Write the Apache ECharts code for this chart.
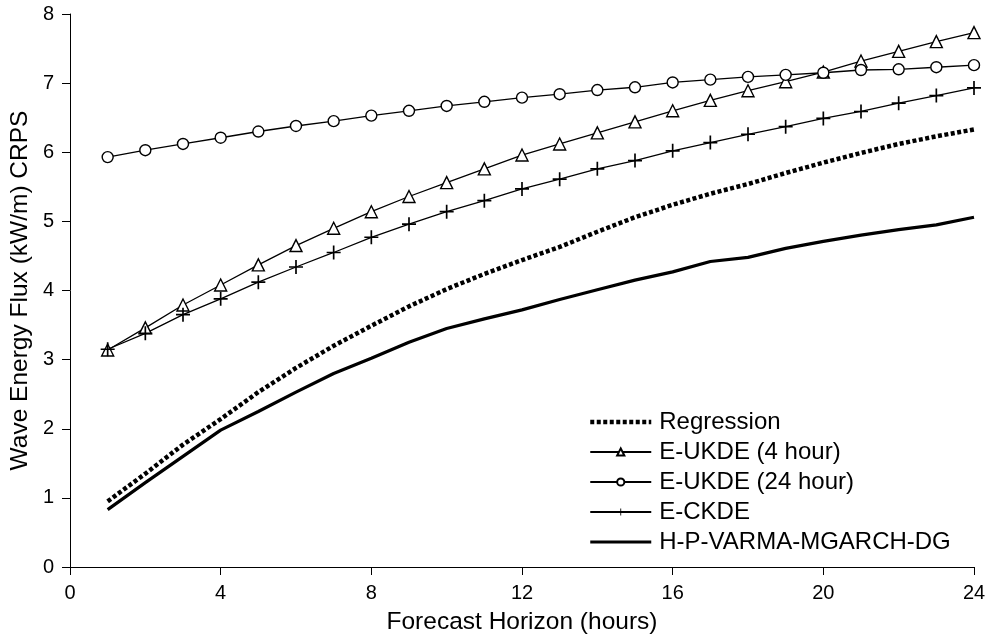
<!DOCTYPE html>
<html lang="en">
<head>
    <meta charset="UTF-8">
    <title>Wave Energy Flux CRPS</title>
    <style>
        html, body { margin: 0; padding: 0; background: #fff; }
        #main { width: 989px; height: 641px; }
    </style>
    <script src="https://cdn.jsdelivr.net/npm/echarts@6/dist/echarts.min.js"></script>
</head>
<body>
<div id="main"></div>
<script type="text/javascript">
    // forecast horizon (hours) and CRPS values
    var hours = [1, 2, 3, 4, 5, 6, 7, 8, 9, 10, 11, 12, 13, 14, 15, 16, 17, 18, 19, 20, 21, 22, 23, 24];
    var regression = [0.95, 1.35, 1.77, 2.14, 2.53, 2.88, 3.20, 3.49, 3.77, 4.02, 4.24, 4.44, 4.63, 4.85, 5.06, 5.24, 5.40, 5.54, 5.70, 5.85, 5.99, 6.12, 6.23, 6.33];
    var ukde4 = [3.14, 3.46, 3.79, 4.08, 4.37, 4.65, 4.90, 5.14, 5.36, 5.56, 5.76, 5.96, 6.12, 6.28, 6.44, 6.60, 6.75, 6.89, 7.02, 7.16, 7.32, 7.46, 7.60, 7.73];
    var ukde24 = [5.93, 6.03, 6.12, 6.21, 6.30, 6.38, 6.45, 6.53, 6.60, 6.67, 6.73, 6.79, 6.84, 6.90, 6.94, 7.01, 7.05, 7.09, 7.12, 7.15, 7.19, 7.20, 7.23, 7.26];
    var ckde = [3.15, 3.38, 3.65, 3.88, 4.12, 4.34, 4.55, 4.77, 4.96, 5.14, 5.30, 5.47, 5.61, 5.76, 5.88, 6.02, 6.14, 6.26, 6.37, 6.49, 6.59, 6.71, 6.82, 6.93];
    var hpvarma = [0.83, 1.22, 1.60, 1.98, 2.25, 2.53, 2.80, 3.02, 3.25, 3.45, 3.59, 3.72, 3.87, 4.01, 4.15, 4.27, 4.42, 4.48, 4.61, 4.71, 4.80, 4.88, 4.95, 5.06];

    var FONT = '"Liberation Sans", Arial, sans-serif';
    var PLUS = 'path://M0,8.8h20v2.4h-20zM8.8,0h2.4v20h-2.4z';
    var DOTS = [4, 2.5];

    function pairs(vals) {
        return hours.map(function (h, i) { return [h, vals[i]]; });
    }

    function markerSeries(name, vals, symbol, size) {
        return {
            name: name,
            type: 'line',
            data: pairs(vals),
            symbol: symbol,
            symbolSize: size,
            showAllSymbol: true,
            lineStyle: { color: '#000', width: 1.3 },
            itemStyle: symbol === PLUS
                ? { color: '#000' }
                : { color: '#fff', borderColor: '#000', borderWidth: 1.4 },
            z: 3
        };
    }

    var myChart = echarts.init(document.getElementById('main'));
    var option = {
        animation: false,
        backgroundColor: '#fff',
        grid: { left: 70, top: 14, width: 904, height: 553 },
        legend: {
            orient: 'vertical',
            left: 583,
            top: 405,
            itemWidth: 61,
            itemHeight: 9,
            itemGap: 6,
            textStyle: { fontFamily: FONT, fontSize: 24, color: '#000', lineHeight: 24, padding: [0, 0, 0, 3] },
            data: [
                { name: 'Regression', itemStyle: { opacity: 0 }, lineStyle: { width: 4.5, type: DOTS } },
                { name: 'E-UKDE (4 hour)' },
                { name: 'E-UKDE (24 hour)' },
                { name: 'E-CKDE' },
                { name: 'H-P-VARMA-MGARCH-DG', itemStyle: { opacity: 0 }, lineStyle: { width: 3.2 } }
            ]
        },
        xAxis: {
            type: 'value',
            min: 0,
            max: 24,
            interval: 4,
            name: 'Forecast Horizon (hours)',
            nameLocation: 'middle',
            nameGap: 43,
            nameMoveOverlap: false,
            nameTextStyle: { fontFamily: FONT, fontSize: 24.5, color: '#000' },
            axisLine: { lineStyle: { color: '#000', width: 1 } },
            axisTick: { show: true, length: 8, lineStyle: { color: '#000' } },
            axisLabel: { fontFamily: FONT, fontSize: 20, color: '#000', margin: 16 },
            splitLine: { show: false }
        },
        yAxis: {
            type: 'value',
            min: 0,
            max: 8,
            interval: 1,
            name: 'Wave Energy Flux (kW/m) CRPS',
            nameLocation: 'middle',
            nameGap: 37,
            nameMoveOverlap: false,
            nameTextStyle: { fontFamily: FONT, fontSize: 24.5, color: '#000' },
            axisLine: { show: true, lineStyle: { color: '#000', width: 1 } },
            axisTick: { show: true, length: 8, lineStyle: { color: '#000' } },
            axisLabel: { fontFamily: FONT, fontSize: 20, color: '#000', margin: 16 },
            splitLine: { show: false }
        },
        series: [
            {
                name: 'Regression',
                type: 'line',
                data: pairs(regression),
                symbol: 'none',
                lineStyle: { color: '#000', width: 4.5, type: DOTS },
                itemStyle: { color: '#000' },
                z: 2
            },
            markerSeries('E-UKDE (4 hour)', ukde4, 'triangle', 12),
            markerSeries('E-UKDE (24 hour)', ukde24, 'circle', 11),
            markerSeries('E-CKDE', ckde, PLUS, 14),
            {
                name: 'H-P-VARMA-MGARCH-DG',
                type: 'line',
                data: pairs(hpvarma),
                symbol: 'none',
                lineStyle: { color: '#000', width: 3.2 },
                itemStyle: { color: '#000' },
                z: 2
            }
        ]
    };
    myChart.setOption(option);
</script>
</body>
</html>
